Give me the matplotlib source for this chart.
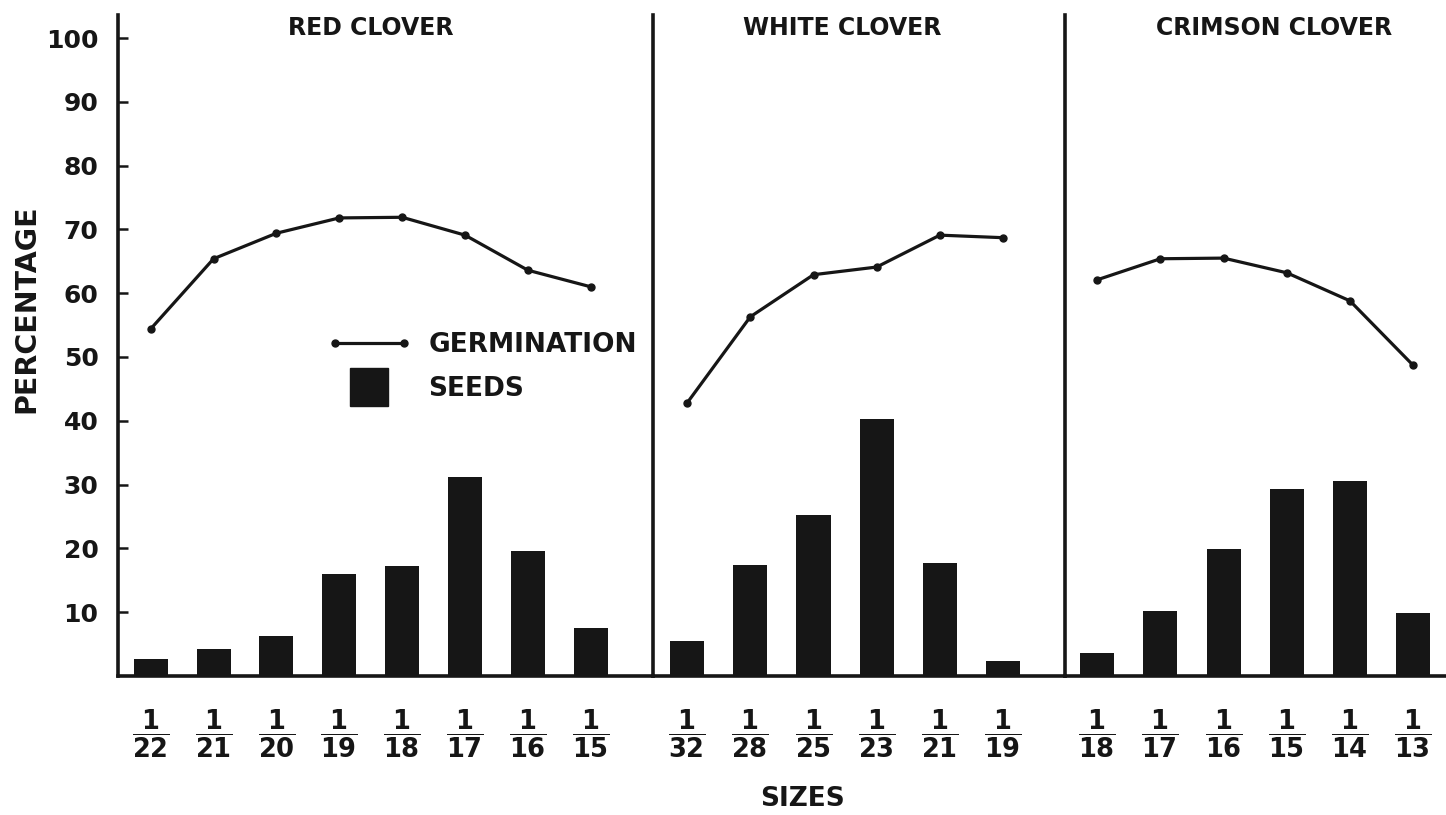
import matplotlib
matplotlib.use('Agg')
import matplotlib.pyplot as plt
from matplotlib.lines import Line2D
from matplotlib.legend_handler import HandlerLine2D
import numpy as np

plt.rcParams['font.family'] = ['DejaVu Sans']
plt.rcParams['font.weight'] = 'bold'
plt.rcParams['mathtext.fontset'] = 'dejavusans'

# ---- data ----
panel_titles = ['RED CLOVER', 'WHITE CLOVER', 'CRIMSON CLOVER']
red_sizes = ['22', '21', '20', '19', '18', '17', '16', '15']
red_seeds = [2.6, 4.2, 6.3, 16.0, 17.2, 31.2, 19.6, 7.5]
red_germ = [54.4, 65.4, 69.4, 71.8, 71.9, 69.1, 63.6, 61.0]
white_sizes = ['32', '28', '25', '23', '21', '19']
white_seeds = [5.5, 17.4, 25.2, 40.3, 17.7, 2.3]
white_germ = [42.8, 56.3, 62.9, 64.1, 69.1, 68.7]
crimson_sizes = ['18', '17', '16', '15', '14', '13']
crimson_seeds = [3.6, 10.2, 19.9, 29.3, 30.6, 9.9]
crimson_germ = [62.1, 65.4, 65.5, 63.2, 58.8, 48.7]
y_ticks = [10, 20, 30, 40, 50, 60, 70, 80, 90, 100]

# ---- layout ----
W, H = 1446, 815
fig = plt.figure(figsize=(W / 100, H / 100), dpi=100)
BASE, TOP = 676, 15
ink = '#161616'

panels = [
    (118, 653, red_sizes, red_seeds, red_germ, (-0.52, 7.99), 371),
    (653, 1065, white_sizes, white_seeds, white_germ, (-0.54, 5.98), 842),
    (1065, 1446, crimson_sizes, crimson_seeds, crimson_germ, (-0.51, 5.52), 1274),
]

axes = []
for i, (x0, x1, sizes, seeds, germ, xlim, tx) in enumerate(panels):
    ax = fig.add_axes([x0 / W, 1 - BASE / H, (x1 - x0) / W, (BASE - TOP) / H])
    axes.append(ax)
    x = np.arange(len(sizes))
    ax.bar(x, seeds, width=0.54, color=ink, zorder=2)
    ax.plot(x, germ, color=ink, lw=2.3, marker='o', ms=5, zorder=3)
    ax.set_xlim(*xlim)
    ax.set_ylim(0, (BASE - TOP) / 6.38)
    for s in ['top', 'right']:
        ax.spines[s].set_visible(False)
    for s in ['left', 'bottom']:
        ax.spines[s].set_linewidth(2.6)
        ax.spines[s].set_color(ink)
        ax.spines[s].set_capstyle('projecting')
    ax.set_xticks(x)
    ax.set_xticklabels([r'$\mathbf{\dfrac{1}{%s}}$' % s for s in sizes], fontsize=18.5)
    ax.tick_params(axis='x', length=0, pad=23, colors=ink)
    if i == 0:
        ax.set_yticks(y_ticks)
        ax.set_yticklabels([str(v) for v in y_ticks], fontsize=18)
        ax.tick_params(axis='y', direction='in', length=7, width=1.8, pad=14, colors=ink)
    else:
        ax.set_yticks([])
    ax.patch.set_alpha(0)
    fig.text(tx / W, 1 - 28 / H, panel_titles[i], ha='center', va='center',
             fontsize=17, fontweight='bold', color=ink)

fig.text(26 / W, 1 - 309 / H, 'PERCENTAGE', rotation=90, ha='center', va='center',
         fontsize=20.5, fontweight='bold', color=ink)
fig.text(803 / W, 1 - 799 / H, 'SIZES', ha='center', va='center',
         fontsize=19, fontweight='bold', color=ink)

germ_handle = Line2D([], [], color=ink, lw=2.3, marker='o', ms=5)
seed_handle = Line2D([], [], color=ink, marker='s', ms=27, ls='none')
axes[0].legend([germ_handle, seed_handle], ['GERMINATION', 'SEEDS'], loc='upper left',
               bbox_to_anchor=(327 / W, 1 - 332 / H), bbox_transform=fig.transFigure,
               frameon=False, fontsize=19, handlelength=3.2, handletextpad=0.65,
               labelspacing=0.7, borderpad=0, borderaxespad=0, numpoints=2,
               labelcolor=ink,
               handler_map={seed_handle: HandlerLine2D(numpoints=1)})

fig.savefig('out.png', dpi=100, facecolor='white')
